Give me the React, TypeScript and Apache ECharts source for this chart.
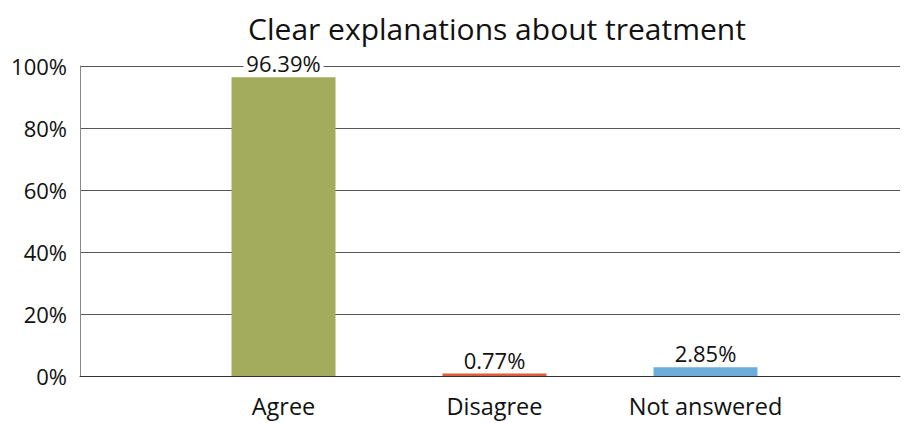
import React, { useEffect, useRef } from "react";
import * as echarts from "echarts";

const categories = ["Agree", "Disagree", "Not answered"];
const values = [96.39, 0.77, 2.85];
const barColors = ["#A3AB5C", "#DE5D3C", "#6DADDC"];
const yTicks = [0, 20, 40, 60, 80, 100];
const titleText = "Clear explanations about treatment";

const FONT = "Open Sans";

export default function App() {
  const ref = useRef<HTMLDivElement>(null);
  useEffect(() => {
    if (!ref.current) return;
    const chart = echarts.init(ref.current, undefined, { renderer: "svg" });
    chart.setOption({
      animation: false,
      backgroundColor: "#ffffff",
      textStyle: { fontFamily: FONT },
      title: {
        text: titleText,
        left: 492,
        textAlign: "center",
        top: 8,
        textStyle: { fontFamily: FONT, fontSize: 30, fontWeight: "normal", color: "#111" },
      },
      grid: [
        { left: 80, right: 4, top: 66, bottom: 47 },
        { left: 178, width: 633, top: 66, bottom: 47 },
      ],
      xAxis: [
        {
          gridIndex: 0,
          type: "value",
          min: 0,
          max: 1,
          axisLine: { show: true, onZero: false, lineStyle: { color: "#333", width: 1 } },
          axisTick: { show: false },
          axisLabel: { show: false },
          splitLine: { show: false },
        },
        {
          gridIndex: 1,
          type: "category",
          data: categories,
          axisLine: { show: false },
          axisTick: { show: false },
          axisLabel: { fontFamily: FONT, fontSize: 23.5, color: "#111", margin: 18 },
        },
      ],
      yAxis: [
        {
          gridIndex: 0,
          type: "value",
          min: yTicks[0],
          max: yTicks[yTicks.length - 1],
          interval: 20,
          axisLine: { show: true, lineStyle: { color: "#888" } },
          axisTick: { show: false },
          axisLabel: { formatter: "{value}%", fontFamily: FONT, fontSize: 22, color: "#111", margin: 13 },
          splitLine: { show: true, lineStyle: { color: "#555", width: 1 } },
        },
        {
          gridIndex: 1,
          type: "value",
          min: 0,
          max: 100,
          show: false,
          splitLine: { show: false },
        },
      ],
      series: [
        {
          type: "bar",
          xAxisIndex: 1,
          yAxisIndex: 1,
          barWidth: 104,
          data: values.map((v, i) => ({ value: v, itemStyle: { color: barColors[i] } })),
          label: {
            show: true,
            position: "top",
            distance: 3,
            formatter: (p: any) => `${p.value.toFixed(2)}%`,
            fontFamily: FONT,
            fontSize: 22,
            color: "#111",
            backgroundColor: "#ffffff",
            padding: [0, 3],
          },
        },
      ],
    });
    return () => chart.dispose();
  }, []);
  return (
    <div
      ref={ref}
      style={{ position: "absolute", left: 0, top: 0, width: 904, height: 423 }}
    />
  );
}
